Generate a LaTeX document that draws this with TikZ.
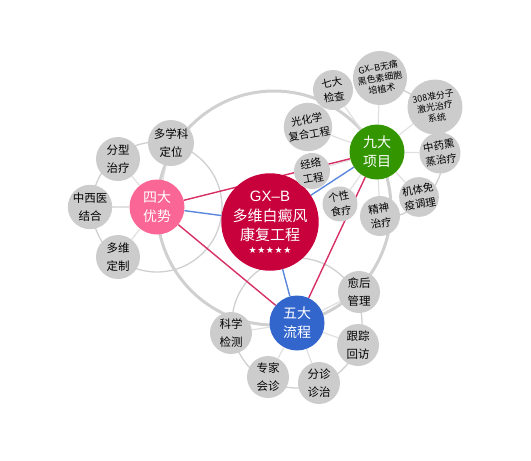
\documentclass[tikz,border=0pt]{standalone}
\usepackage{fontspec}
\setmainfont{Noto Sans CJK SC}
\newfontfamily\latinfont{Liberation Sans}
\newfontfamily\starfont{DejaVu Sans}
\usetikzlibrary{backgrounds}

\definecolor{coreRed}{RGB}{200,0,60}
\definecolor{pinkHub}{RGB}{250,102,150}
\definecolor{greenHub}{RGB}{51,150,0}
\definecolor{blueHub}{RGB}{51,102,204}
\definecolor{satGray}{RGB}{204,204,204}
\definecolor{ringGray}{RGB}{208,208,208}
\definecolor{spokeGray}{RGB}{224,224,224}
\definecolor{tieRed}{RGB}{214,48,100}
\definecolor{linkBlue}{RGB}{90,135,220}

\tikzset{
  hub/.style={circle, inner sep=0pt, minimum size=55pt, text=white, align=center,
    font=\fontsize{14}{19}\selectfont},
  sat/.style={circle, fill=satGray, inner sep=0pt, minimum size=44pt, align=center,
    font=\fontsize{11.5}{17.5}\selectfont},
  jsat/.style={sat, rotate=10, font=\fontsize{10.5}{14.5}\selectfont},
  tinysat/.style={jsat, font=\fontsize{9}{11}\selectfont},
  bigring/.style={draw=ringGray, line width=3pt},
  ring/.style={draw=ringGray, line width=1.3pt},
  spoke/.style={draw=spokeGray, line width=1.2pt},
  tie/.style={draw=tieRed, line width=1.4pt},
  link/.style={draw=linkBlue, line width=1.4pt}
}

\begin{document}
\begin{tikzpicture}[x=1pt, y=-1pt]
    \useasboundingbox (0,0) rectangle (531,461);

    % centre
    \node[circle, fill=coreRed, minimum size=84pt, inner sep=0pt, text=white, align=center,
      font=\fontsize{15}{19}\selectfont] (core) at (270,222)
      {{\latinfont GX–B}\\[1pt]多维白癜风\\康复工程\\[-6pt]
       {\starfont\fontsize{9}{9}\selectfont ★\kern.6pt★\kern.6pt★\kern.6pt★\kern.6pt★}};

    % hubs
    \node[hub, fill=pinkHub] (sida) at (157,207) {四大\\优势};
    \node[hub, fill=greenHub] (jiuda) at (377,152) {九大\\项目};
    \node[hub, fill=blueHub] (wuda) at (297,323) {五大\\流程};

    % four advantages
    \node[sat, minimum size=46pt] (s1) at (171,143) {多学科\\定位};
    \node[sat] (s2) at (118,159) {分型\\治疗};
    \node[sat] (s3) at (90,207) {中西医\\结合};
    \node[sat] (s4) at (118,257) {多维\\定制};

    % nine projects
    \node[jsat, minimum size=40pt] (j1) at (333,90) {七大\\检查};
    \node[tinysat, minimum size=53pt] (j2) at (380,78) {GX–B无痛\\黑色素细胞\\培植术};
    \node[tinysat, minimum size=55pt] (j3) at (435,107) {308准分子\\激光治疗\\系统};
    \node[jsat, minimum size=41pt] (j4) at (440,153) {中药熏\\蒸治疗};
    \node[jsat, minimum size=39pt] (j5) at (419,197) {机体免\\疫调理};
    \node[jsat, minimum size=40pt] (j6) at (380,216) {精神\\治疗};
    \node[jsat, minimum size=35pt] (j7) at (340,204) {个性\\食疗};
    \node[jsat, minimum size=36pt] (j8) at (312,171) {经络\\工程};
    \node[jsat, minimum size=46pt] (j9) at (308,127) {光化学\\复合工程};

    % five procedures
    \node[sat, minimum size=42pt] (w1) at (359,292) {愈后\\管理};
    \node[sat, minimum size=42pt] (w2) at (358,345) {跟踪\\回访};
    \node[sat, minimum size=42pt] (w3) at (319,383) {分诊\\诊治};
    \node[sat, minimum size=42pt] (w4) at (268,377) {专家\\会诊};
    \node[sat, minimum size=42pt] (w5) at (231,333) {科学\\检测};

    \begin{scope}[on background layer]
      \draw[bigring] (274,208) circle[radius=117];
      \draw[ring] (sida) circle[radius=65];
      \draw[ring] (jiuda) ++(-88:67) arc[start angle=-88, end angle=86, radius=67];
      \draw[ring] (wuda) circle[radius=65];

      \foreach \s in {s1,s2,s3,s4} \draw[spoke] (sida) -- (\s);
      \foreach \s in {j1,j2,j3,j4,j5,j6,j7,j8,j9} \draw[spoke] (jiuda) -- (\s);
      \foreach \s in {w1,w2,w3,w4,w5} \draw[spoke] (wuda) -- (\s);

      \path[tie] (sida) -- (jiuda)
        (sida) -- (wuda)
        (jiuda) -- (wuda);
      \path[link] (core) -- (sida)
        (core) -- (jiuda)
        (core) -- (wuda);
    \end{scope}
\end{tikzpicture}
\end{document}
